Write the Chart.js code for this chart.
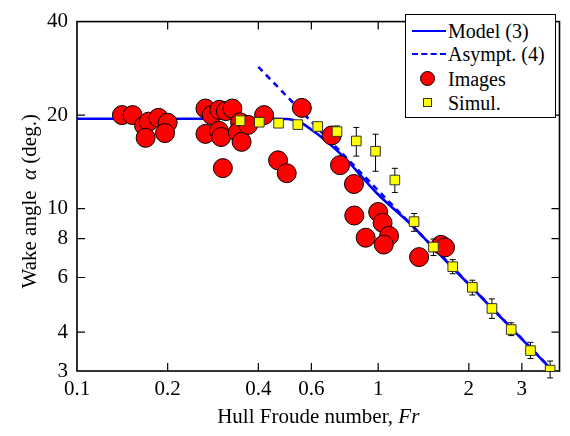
<!DOCTYPE html>
<html>
<head>
<meta charset="utf-8">
<script src="https://cdn.jsdelivr.net/npm/chart.js@4.4.0/dist/chart.umd.min.js"></script>
<style>
  html, body { margin: 0; padding: 0; background: #fff; }
  #wrap { position: relative; width: 570px; height: 436px; }
  #legend {
    position: absolute; left: 405px; top: 14px; width: 149px; height: 102px;
    border: 1px solid #000; background: #fff;
    font-family: "Liberation Serif"; font-size: 20px; color: #000;
  }
  .row { position: absolute; left: 0; height: 24px; width: 149px; }
  .row span.txt { position: absolute; left: 42px; top: 0; line-height: 24px; white-space: nowrap; }
  .solid { position: absolute; left: 6px; top: 11px; width: 34px; border-top: 2.5px solid #0000ff; }
  .dash { position: absolute; left: 6px; top: 11px; width: 34px; border-top: 2.5px dashed #0000ff; }
  .dot { position: absolute; left: 14px; top: 4px; width: 15px; height: 15px; border-radius: 50%; background: #ff0000; border: 1px solid #000; box-sizing: border-box; }
  .sq { position: absolute; left: 17px; top: 7px; width: 9px; height: 9px; background: #ffff00; border: 1px solid #333; box-sizing: border-box; }
</style>
</head>
<body>
<div id="wrap">
  <canvas id="wake" width="570" height="436"></canvas>
  <div id="legend">
    <div class="row" style="top:4px"><div class="solid"></div><span class="txt">Model (3)</span></div>
    <div class="row" style="top:27px"><div class="dash"></div><span class="txt">Asympt. (4)</span></div>
    <div class="row" style="top:52px"><div class="dot"></div><span class="txt">Images</span></div>
    <div class="row" style="top:76px"><div class="sq"></div><span class="txt">Simul.</span></div>
  </div>
</div>
<script>
/* axis ticks */
const xTicks = [0.1, 0.2, 0.4, 0.6, 1, 2, 3];
const yTicks = [3, 4, 6, 8, 10, 20, 40];

/* ship images (red circles) */
const imagesFr = [0.141, 0.153, 0.167, 0.173, 0.169, 0.1865, 0.200, 0.196,
  0.267, 0.280, 0.297, 0.312, 0.328, 0.267, 0.296, 0.301, 0.305,
  0.348, 0.342, 0.352, 0.370, 0.418, 0.465, 0.497, 0.558,
  0.701, 0.747, 0.831, 0.833, 1.0, 1.034, 0.909, 1.087, 1.044,
  1.367, 1.617, 1.667];
const imagesAngle = [20.0, 20.0, 18.5, 19.05, 16.9, 19.6, 18.9, 17.5,
  21.0, 20.0, 20.8, 20.6, 21.0, 17.4, 17.8, 17.0, 13.5,
  18.97, 17.6, 16.4, 18.6, 20.0, 14.3, 13.0, 21.1,
  17.2, 13.8, 12.0, 9.5, 9.75, 9.0, 8.06, 8.17, 7.66,
  6.98, 7.64, 7.5];

/* simulations (yellow squares) with error bars */
const simulFr = [0.348, 0.403, 0.467, 0.541, 0.630, 0.730, 0.846, 0.980, 1.136,
  1.316, 1.526, 1.768, 2.054, 2.386, 2.765, 3.204, 3.723];
const simulAngle = [19.19, 18.97, 18.83, 18.64, 18.38, 17.70, 16.51, 15.30, 12.36,
  9.08, 7.52, 6.50, 5.58, 4.77, 4.08, 3.49, 3.02];
const simulLow = [19.19, 18.97, 18.83, 18.64, 18.38, 17.35, 14.76, 13.19, 11.26,
  8.45, 7.06, 6.17, 5.27, 4.43, 3.90, 3.29, 2.85];
const simulHigh = [19.19, 18.97, 18.83, 18.64, 18.38, 18.45, 18.25, 17.36, 13.48,
  9.64, 7.98, 6.85, 5.88, 5.12, 4.29, 3.71, 3.23];

/* model (3) and asymptote (4) */
const modelFr = [0.1, 0.2, 0.3, 0.45, 0.5, 0.53, 0.56, 0.6, 0.65, 0.7, 0.78, 0.9,
  1.0, 1.3, 1.5, 2.0, 2.5, 3.0, 3.5, 4.0];
const modelAngle = [19.47, 19.47, 19.47, 19.47, 19.42, 19.2, 18.8, 17.95, 16.95, 15.95,
  14.45, 12.4, 11.1, 8.8, 7.6, 5.7, 4.56, 3.8, 3.26, 2.85];
const asymptFr = [0.4, 1.0, 4.0];
const asymptAngle = [28.6, 11.43, 2.86];

/* axis titles, [text, italic] pieces */
const xTitle = [['Hull Froude number, ', false], ['Fr', true]];
const yTitle = [['Wake angle  ', false], ['\u03b1', true], [' (deg.)', false]];

const SERIF = '"Liberation Serif"';
const pts = (xs, ys) => xs.map((x, i) => ({ x: x, y: ys[i] }));

function drawPieces(ctx, pieces, size) {
  const fonts = pieces.map(p => (p[1] ? 'italic ' : '') + size + 'px ' + SERIF);
  let total = 0;
  const widths = pieces.map((p, i) => { ctx.font = fonts[i]; const w = ctx.measureText(p[0]).width; total += w; return w; });
  let cx = -total / 2;
  pieces.forEach((p, i) => { ctx.font = fonts[i]; ctx.fillText(p[0], cx, 0); cx += widths[i]; });
}

/* box + inward ticks on all four sides, error bars under the squares, titles */
const framePlugin = {
  id: 'frame',
  beforeDatasetsDraw(chart) {
    const { ctx, chartArea: a, scales: { x, y } } = chart;
    ctx.save();
    ctx.strokeStyle = '#000';
    ctx.lineWidth = 1.6;
    ctx.strokeRect(a.left, a.top, a.right - a.left, a.bottom - a.top);
    ctx.lineWidth = 1.2;
    ctx.beginPath();
    xTicks.forEach(v => {
      const px = x.getPixelForValue(v);
      if (px <= a.left + 1 || px >= a.right - 1) return;
      ctx.moveTo(px, a.bottom); ctx.lineTo(px, a.bottom - 8);
      ctx.moveTo(px, a.top); ctx.lineTo(px, a.top + 8);
    });
    yTicks.forEach(v => {
      const py = y.getPixelForValue(v);
      if (py <= a.top + 1 || py >= a.bottom - 1) return;
      ctx.moveTo(a.left, py); ctx.lineTo(a.left + 8, py);
      ctx.moveTo(a.right, py); ctx.lineTo(a.right - 8, py);
    });
    ctx.stroke();

    ctx.fillStyle = '#000';
    ctx.textBaseline = 'alphabetic';
    ctx.textAlign = 'left';
    ctx.save();
    ctx.translate((a.left + a.right) / 2, 423);
    drawPieces(ctx, xTitle, 21);
    ctx.restore();
    ctx.save();
    ctx.translate(36, (a.top + a.bottom) / 2 + 5);
    ctx.rotate(-Math.PI / 2);
    drawPieces(ctx, yTitle, 21);
    ctx.restore();
    ctx.restore();
  },
  beforeDatasetDraw(chart, args) {
    if (args.index !== 0) return;
    const { ctx, scales: { x, y } } = chart;
    ctx.save();
    ctx.strokeStyle = '#000';
    ctx.lineWidth = 1;
    ctx.beginPath();
    simulFr.forEach((f, i) => {
      if (simulHigh[i] === simulLow[i]) return;
      const px = x.getPixelForValue(f);
      const hi = y.getPixelForValue(simulHigh[i]);
      const lo = y.getPixelForValue(simulLow[i]);
      ctx.moveTo(px, hi); ctx.lineTo(px, lo);
      ctx.moveTo(px - 3, hi); ctx.lineTo(px + 3, hi);
      ctx.moveTo(px - 3, lo); ctx.lineTo(px + 3, lo);
    });
    ctx.stroke();
    ctx.restore();
  }
};

new Chart(document.getElementById('wake'), {
  type: 'scatter',
  data: {
    datasets: [
      {
        label: 'Simul.',
        data: pts(simulFr, simulAngle),
        pointStyle: 'rect',
        pointRadius: 6.8,
        backgroundColor: '#ffff00',
        borderColor: '#333',
        borderWidth: 1,
        order: 1
      },
      {
        label: 'Images',
        data: pts(imagesFr, imagesAngle),
        pointStyle: 'circle',
        pointRadius: 9.5,
        backgroundColor: '#ff0000',
        borderColor: '#000',
        borderWidth: 1,
        order: 2
      },
      {
        label: 'Model (3)',
        type: 'line',
        data: pts(modelFr, modelAngle),
        borderColor: '#0000ff',
        borderWidth: 2.6,
        pointRadius: 0,
        cubicInterpolationMode: 'monotone',
        order: 3
      },
      {
        label: 'Asympt. (4)',
        type: 'line',
        data: pts(asymptFr, asymptAngle),
        borderColor: '#0000ff',
        borderWidth: 2.6,
        borderDash: [6, 5],
        pointRadius: 0,
        order: 4
      }
    ]
  },
  options: {
    responsive: false,
    animation: false,
    font: { family: SERIF },
    layout: { padding: { top: 9, right: 9, left: 0, bottom: 0 } },
    plugins: { legend: { display: false }, tooltip: { enabled: false } },
    scales: {
      x: {
        type: 'logarithmic', min: 0.1, max: 4,
        grid: { display: false, drawTicks: false },
        border: { display: false },
        afterBuildTicks: s => { s.ticks = xTicks.map(v => ({ value: v })); },
        afterFit: s => { s.height = 65; },
        ticks: {
          callback: v => String(v), autoSkip: false, maxRotation: 0,
          color: '#000', padding: 6, font: { family: SERIF, size: 21 }
        }
      },
      y: {
        type: 'logarithmic', min: 3, max: 40,
        grid: { display: false, drawTicks: false },
        border: { display: false },
        afterBuildTicks: s => { s.ticks = yTicks.map(v => ({ value: v })); },
        afterFit: s => { s.width = 77; },
        ticks: {
          callback: v => String(v), autoSkip: false,
          color: '#000', padding: 9, font: { family: SERIF, size: 21 }
        }
      }
    }
  },
  plugins: [framePlugin]
});
</script>
</body>
</html>
